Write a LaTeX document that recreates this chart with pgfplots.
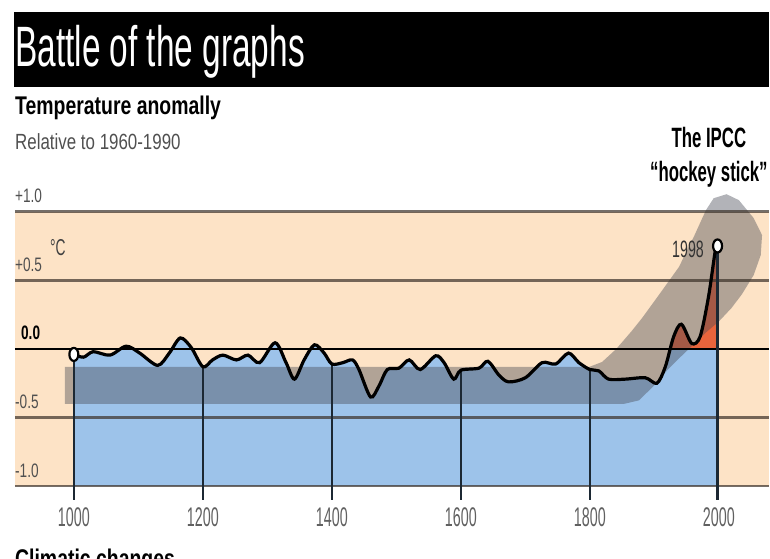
\documentclass[border=0pt]{standalone}
\usepackage{fontspec}
\setmainfont{Liberation Sans}
\newfontfamily\fTitle[FakeStretch=0.587]{Liberation Sans}
\newfontfamily\fHead[FakeStretch=0.76]{Liberation Sans}
\newfontfamily\fRel[FakeStretch=0.77]{Liberation Sans}
\newfontfamily\fIpcc[FakeStretch=0.6]{Liberation Sans}
\newfontfamily\fY[FakeStretch=0.7]{Liberation Sans}
\newfontfamily\fX[FakeStretch=0.53]{Liberation Sans}
\usepackage{pgfplots}
\pgfplotsset{compat=1.18}
\usepgfplotslibrary{fillbetween}
\definecolor{peach}{HTML}{FDE3C6}
\definecolor{bluef}{HTML}{9DC3EA}
\definecolor{redf}{HTML}{E8643C}
\definecolor{bandc}{HTML}{484B55}
\definecolor{gridc}{HTML}{3A3028}
\definecolor{vline}{HTML}{1C2833}
\definecolor{textgray}{HTML}{505050}
\definecolor{tickgray}{HTML}{606060}
\begin{document}
\begin{tikzpicture}
\path (0,0) rectangle (770bp,559bp);
\fill[black] (14bp,472bp) rectangle (770bp,547bp);
\node[anchor=base west, inner sep=0, text=white, font={\fTitle\fontsize{57bp}{57bp}\selectfont}] at (15bp,492bp) {Battle of the graphs};
\node[anchor=base west, inner sep=0, font={\fHead\bfseries\fontsize{25.6bp}{26bp}\selectfont}] at (15bp,444bp) {Temperature anomally};
\node[anchor=base west, inner sep=0, text=textgray, font={\fRel\fontsize{22bp}{22bp}\selectfont}] at (15bp,409bp) {Relative to 1960-1990};
\node[anchor=base, inner sep=0, font={\fIpcc\bfseries\fontsize{28bp}{28bp}\selectfont}] at (710bp,411bp) {The IPCC};
\node[anchor=base, inner sep=0, font={\fIpcc\bfseries\fontsize{28bp}{28bp}\selectfont}] at (710bp,377bp) {“hockey stick”};
\begin{scope}[overlay]
\node[anchor=base west, inner sep=0, font={\fHead\bfseries\fontsize{25.6bp}{26bp}\selectfont}] at (15bp,-9bp) {Climatic changes};
\end{scope}
\begin{axis}[
  at={(15bp,72bp)}, anchor=south west,
  scale only axis, width=755bp, height=275bp,
  xmin=908.7, xmax=2077.4, ymin=-1, ymax=1,
  clip=false, set layers,
  axis background/.style={fill=peach},
  axis line style={draw=none},
  major tick length=0pt,
  xtick={1000,1200,1400,1600,1800,2000},
  xticklabels={1000,1200,1400,1600,1800,2000},
  xticklabel style={anchor=base, inner sep=0pt, yshift=-40bp, text=tickgray, font={\fX\fontsize{27bp}{27bp}\selectfont}},
  ytick={-1,-0.5,0,0.5,1},
  yticklabels={-1.0,-0.5,{\hspace{6bp}\textcolor{black}{\bfseries 0.0}},+0.5,+1.0},
  yticklabel style={anchor=base west, inner sep=0pt, yshift=9bp, text=textgray, font={\fY\fontsize{19.5bp}{20bp}\selectfont}},
]
% invisible path of the reconstruction
\addplot[name path=curve, draw=none, smooth] coordinates {
(1000,-0.04) (1015,-0.06) (1030,-0.02) (1056,-0.045) (1081,0.02) (1102,-0.03)
(1130,-0.12) (1148,-0.03) (1165,0.08) (1182,0.01) (1200,-0.13) (1215,-0.08)
(1231,-0.045) (1252,-0.08) (1270,-0.045) (1288,-0.10) (1312,0.045) (1329,-0.10)
(1342,-0.22) (1357,-0.08) (1373,0.03) (1388,-0.03) (1400,-0.11) (1417,-0.10)
(1432,-0.08) (1442,-0.15) (1460,-0.35) (1473,-0.27) (1486,-0.15) (1504,-0.14)
(1520,-0.08) (1537,-0.15) (1561,-0.05) (1574,-0.10) (1589,-0.22) (1600,-0.155)
(1628,-0.14) (1642,-0.09) (1659,-0.19) (1674,-0.24) (1700,-0.21) (1726,-0.10)
(1747,-0.11) (1767,-0.03) (1783,-0.10) (1800,-0.15) (1814,-0.16) (1829,-0.22)
(1855,-0.22) (1886,-0.21) (1904,-0.25) (1917,-0.13) (1930,0.09) (1942,0.18)
(1958,0.04) (1971,0.09) (1984,0.38) (1994,0.70) (1998,0.75)};
\addplot[name path=bot, draw=none] coordinates {(1000,-1) (1998,-1)};
\addplot[name path=zero, draw=none] coordinates {(1000,0) (1998,0)};
\addplot[fill=bluef, draw=none] fill between[of=curve and bot];
\addplot[fill=redf, draw=none] fill between[of=curve and zero, soft clip={domain=1924:1998}];
% uncertainty band
\addplot[fill=bandc, fill opacity=0.42, draw=none] coordinates {
(986,-0.131) (1799,-0.131) (1819,-0.095) (1841,0.0) (1865,0.131) (1881,0.225)
(1907,0.393) (1938,0.596) (1961,0.815) (1980,1.011) (1992,1.098) (2012,1.127)
(2031,1.084) (2054,0.953) (2067,0.829) (2065,0.684) (2054,0.538) (2036,0.40)
(2020,0.30) (2000,0.20) (1980,0.12) (1958,0.02) (1938,-0.07) (1919,-0.16)
(1899,-0.27) (1876,-0.375) (1853,-0.400) (986,-0.400)} --cycle;
% horizontal rules
\addplot[gridc, opacity=0.7, line width=2.5bp] coordinates {(908.7,1) (2077.4,1)};
\addplot[gridc, opacity=0.7, line width=2.5bp] coordinates {(908.7,0.5) (2077.4,0.5)};
\addplot[gridc, opacity=0.7, line width=2.5bp] coordinates {(908.7,-0.5) (2077.4,-0.5)};
\addplot[gridc, opacity=0.7, line width=2.5bp] coordinates {(908.7,-1) (2077.4,-1)};
\addplot[black, line width=2bp] coordinates {(908.7,0) (2077.4,0)};
% vertical drop lines
\addplot[vline, line width=2.2bp] coordinates {(1000,-0.04) (1000,-1.098)};
\addplot[vline, line width=2.2bp] coordinates {(1200,-0.13) (1200,-1.098)};
\addplot[vline, line width=2.2bp] coordinates {(1400,-0.11) (1400,-1.098)};
\addplot[vline, line width=2.2bp] coordinates {(1600,-0.155) (1600,-1.098)};
\addplot[vline, line width=2.2bp] coordinates {(1800,-0.15) (1800,-1.098)};
\addplot[vline, line width=2.2bp] coordinates {(1998,0.75) (1998,-1.098)};
% visible curve
\addplot[black, line width=3.2bp, smooth] coordinates {
(1000,-0.04) (1015,-0.06) (1030,-0.02) (1056,-0.045) (1081,0.02) (1102,-0.03)
(1130,-0.12) (1148,-0.03) (1165,0.08) (1182,0.01) (1200,-0.13) (1215,-0.08)
(1231,-0.045) (1252,-0.08) (1270,-0.045) (1288,-0.10) (1312,0.045) (1329,-0.10)
(1342,-0.22) (1357,-0.08) (1373,0.03) (1388,-0.03) (1400,-0.11) (1417,-0.10)
(1432,-0.08) (1442,-0.15) (1460,-0.35) (1473,-0.27) (1486,-0.15) (1504,-0.14)
(1520,-0.08) (1537,-0.15) (1561,-0.05) (1574,-0.10) (1589,-0.22) (1600,-0.155)
(1628,-0.14) (1642,-0.09) (1659,-0.19) (1674,-0.24) (1700,-0.21) (1726,-0.10)
(1747,-0.11) (1767,-0.03) (1783,-0.10) (1800,-0.15) (1814,-0.16) (1829,-0.22)
(1855,-0.22) (1886,-0.21) (1904,-0.25) (1917,-0.13) (1930,0.09) (1942,0.18)
(1958,0.04) (1971,0.09) (1984,0.38) (1994,0.70) (1998,0.75)};
\addplot[only marks, mark=*, mark size=4.5bp, mark options={fill=white, draw=black, line width=2.2bp, yscale=1.45}] coordinates {(1000,-0.04) (1998,0.75)};
\node[anchor=base east, inner sep=0, text=black!80, font={\fIpcc\fontsize{23.7bp}{24bp}\selectfont}] at (axis cs:1977,0.669) {1998};
\node[anchor=base west, inner sep=0, text=black!75, font={\fIpcc\fontsize{23bp}{23bp}\selectfont}] at (axis cs:962.8,0.684) {°C};
\end{axis}
\end{tikzpicture}
\end{document}
